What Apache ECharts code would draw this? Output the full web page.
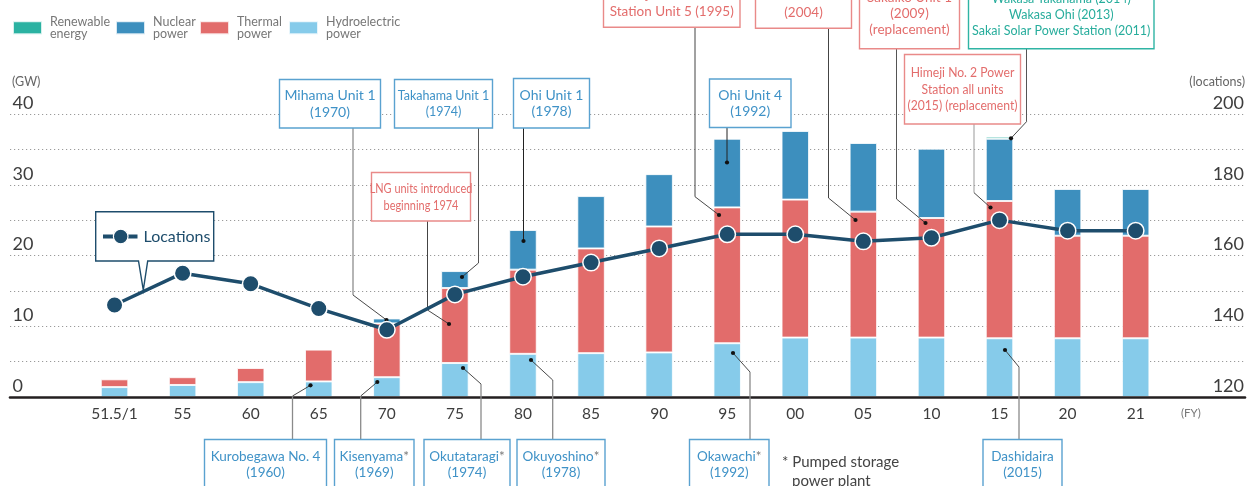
<!DOCTYPE html>
<html><head><meta charset="utf-8">
<script src="https://cdn.jsdelivr.net/npm/echarts@6/dist/echarts.min.js"></script>
<style>html,body{margin:0;padding:0;background:#fff}#c{width:1256px;height:486px}</style>
</head><body><div id="c"></div>
<script>
// ---- data ----
const categories = ['51.5/1','55','60','65','70','75','80','85','90','95','00','05','10','15','20','21'];
const hydroGW     = [1.4,1.7,2.1,2.2,2.8,4.8,6.1,6.2,6.3,7.6,8.4,8.4,8.4,8.3,8.3,8.3];
const thermalGW   = [1.1,1.1,2.0,4.5,7.6,10.6,11.9,14.8,17.8,19.2,19.5,17.8,16.9,19.4,14.5,14.5];
const nuclearGW   = [0,0,0,0,0.7,2.4,5.6,7.4,7.4,9.7,9.7,9.7,9.8,8.8,6.6,6.6];
const renewableGW = [0,0,0,0,0,0,0,0,0,0,0,0,0,0.3,0,0];
const locations   = [146,155,152,145,139,149,154,158,162,166,166,164,165,170,167,167];
const gwTickLabels = [0,10,20,30,40];
const locationTickLabels = [120,140,160,180,200];

const FONT = 'Lato, "Open Sans", sans-serif';
const COL = {renew:'#2bb2a2', nuc:'#3d8fbe', therm:'#e26c6b', hydro:'#86cbea', line:'#1e4d6c'};
const nz = a => a.map(v => v ? v : null);

const chart = echarts.init(document.getElementById('c'), null, {renderer:'canvas'});

const barBase = {type:'bar', stack:'gw', xAxisIndex:0, yAxisIndex:0, barWidth:27.5,
  itemStyle:{borderColor:'rgba(255,255,255,0.8)', borderWidth:1}};

function legendItem(name, left){
  return {data:[name], left:left, top:15.5, padding:0, icon:'rect', itemWidth:29, itemHeight:13,
    selectedMode:false,
    formatter: n => n.replace(' ', '\n'),
    textStyle:{fontFamily:FONT, fontSize:12.5, lineHeight:11.7, color:'#777', padding:[0,0,0,3]}};
}

// ---- annotation helpers (layout only) ----
const K = {blue:{s:'#5aa2d0', t:'#3f92c7'}, red:{s:'#e98a89', t:'#e36d6c'}, green:{s:'#2fb4a4', t:'#27ad9c'}};
const g = [];
function callout(o){
  g.push({type:'polyline', z:30, shape:{points:o.v}, style:{stroke:o.vc||'#555', lineWidth:o.vw||1, fill:null}});
  if (o.d) g.push({type:'polyline', z:30, shape:{points:[o.v[o.v.length-1], o.d]}, style:{stroke:'#333', lineWidth:0.9, fill:null}});
  const end = o.d || o.v[o.v.length-1];
  g.push({type:'circle', z:31, shape:{cx:end[0], cy:end[1], r:2.1}, style:{fill:'#111'}});
  const [x,y,w,h] = o.box;
  g.push({type:'rect', z:32, shape:{x:x, y:y, width:w, height:h}, style:{fill:'#fff', stroke:K[o.k].s, lineWidth:1.4}});
  const rich = {a:{fill:K[o.k].t, font:o.font, lineHeight:o.lh}, s:{fill:'#777', font:o.font, lineHeight:o.lh}};
  g.push({type:'text', z:33, x:x+w/2, y:y+h/2, scaleX:o.sx||1,
    style:{text:o.text, rich:rich, align:'center', verticalAlign:'middle', fill:K[o.k].t, font:o.font, lineHeight:o.lh}});
}
const f14 = '14px ' + FONT;
callout({k:'blue', box:[279.5,79.5,101,48.5], text:'{a|Mihama Unit 1}\n{a|(1970)}', font:f14, lh:16.5, v:[[353,128],[353,295]], vc:'#a3a3a3', vw:1.6, d:[386.5,320]});
callout({k:'blue', box:[394.5,79.5,98,48.5], text:'{a|Takahama Unit 1}\n{a|(1974)}', font:'12.5px '+FONT, lh:16, v:[[478.5,128],[478.5,263]], vc:'#555', d:[462,277]});
callout({k:'blue', box:[513.5,78.5,76,49.5], text:'{a|Ohi Unit 1}\n{a|(1978)}', font:f14, lh:16.5, v:[[523.5,128],[523.5,241]], vc:'#222'});
callout({k:'blue', box:[709.5,79,81.5,48.5], text:'{a|Ohi Unit 4}\n{a|(1992)}', font:f14, lh:16.5, v:[[727,127.5],[727,162.5]], vc:'#222'});
callout({k:'red', box:[371.5,172.5,99,48.5], text:'{a|LNG units introduced}\n{a|beginning 1974}', font:'14px '+FONT, lh:16.5, sx:0.78, v:[[427.5,221],[427.5,310]], vc:'#444', d:[449,324]});
callout({k:'red', box:[603.5,-21,136.5,48.3], text:'{a|Himeji No. 1 Power}\n{a|Station Unit 5 (1995)}', font:'13.5px '+FONT, lh:16.7, v:[[695,27.3],[695,196.7]], vc:'#444', d:[719,215]});
callout({k:'red', box:[755.5,-20,96,48.3], text:'{a|Maizuru Unit 1}\n{a|(2004)}', font:'13.5px '+FONT, lh:16.7, v:[[828.5,28.3],[828.5,198]], vc:'#444', d:[855.5,220]});
callout({k:'red', box:[859.5,-22,100,70.7], text:'{a|Sakaiko Unit 1}\n{a|(2009)}\n{a|(replacement)}', font:'13.5px '+FONT, lh:16.2, v:[[896.5,48.7],[896.5,199]], vc:'#555', d:[925.5,223]});
callout({k:'red', box:[904.5,54.5,116,69.5], text:'{a|Himeji No. 2 Power}\n{a|Station all units}\n{a|(2015) (replacement)}', font:'13.5px '+FONT, lh:16.3, sx:0.9, v:[[974,124],[974,192.7]], vc:'#999', d:[990.5,207.5]});
callout({k:'green', box:[968.5,-19.5,185.5,68.2], text:'{a|Wakasa Takahama (2014)}\n{a|Wakasa Ohi (2013)}\n{a|Sakai Solar Power Station (2011)}', font:'12.5px '+FONT, lh:16, v:[[1026.5,48.7],[1026.5,121.7]], vc:'#555', d:[1011,138.3]});
// bottom
callout({k:'blue', box:[204.5,439.5,122,50], text:'{a|Kurobegawa No. 4}\n{a|(1960)}', font:'13.5px '+FONT, lh:16, v:[[292.5,439.5],[292.5,396]], vc:'#8a8a8a', vw:1.3, d:[310.5,385.3]});
callout({k:'blue', box:[334.5,439.5,79.5,50], text:'{a|Kisenyama}{s|*}\n{a|(1969)}', font:'13.5px '+FONT, lh:16, v:[[360.7,439.5],[360.7,396]], vc:'#8a8a8a', vw:1.3, d:[377.3,382]});
callout({k:'blue', box:[424,439.5,86,50], text:'{a|Okutataragi}{s|*}\n{a|(1974)}', font:'13.5px '+FONT, lh:16, v:[[481,439.5],[481,384]], vc:'#8a8a8a', vw:1.3, d:[463,368]});
callout({k:'blue', box:[517,439.5,88,50], text:'{a|Okuyoshino}{s|*}\n{a|(1978)}', font:'13.5px '+FONT, lh:16, v:[[552.7,439.5],[552.7,380]], vc:'#8a8a8a', vw:1.3, d:[531,360]});
callout({k:'blue', box:[689.5,439.5,79.5,50], text:'{a|Okawachi}{s|*}\n{a|(1992)}', font:'13.5px '+FONT, lh:16, v:[[750,439.5],[750,372]], vc:'#8a8a8a', vw:1.3, d:[733,353]});
callout({k:'blue', box:[983,439.5,79,50], text:'{a|Dashidaira}\n{a|(2015)}', font:'13.5px '+FONT, lh:16, v:[[1019,439.5],[1019,367]], vc:'#8a8a8a', vw:1.3, d:[1005,350]});

// notes / units
g.push({type:'text', z:33, x:782, y:462, style:{text:'* Pumped storage', font:'15px '+FONT, fill:'#444', verticalAlign:'middle'}});
g.push({type:'text', z:33, x:792, y:481, style:{text:'power plant', font:'15px '+FONT, fill:'#444', verticalAlign:'middle'}});
g.push({type:'text', z:33, x:12, y:82, style:{text:'(GW)', font:'12.5px '+FONT, fill:'#666', verticalAlign:'middle'}});
g.push({type:'text', z:33, x:1245, y:82, style:{text:'(locations)', font:'12.5px '+FONT, fill:'#666', verticalAlign:'middle', align:'right'}});
g.push({type:'text', z:33, x:1181, y:413, style:{text:'(FY)', font:'11.5px '+FONT, fill:'#777', verticalAlign:'middle'}});

// Locations legend callout
g.push({type:'polygon', z:34, shape:{points:[[95.7,211.7],[213.7,211.7],[213.7,261],[147.7,261],[143.3,290],[138.5,261],[95.7,261]]},
  style:{fill:'#fff', stroke:COL.line, lineWidth:1.4}});
g.push({type:'line', z:35, shape:{x1:103, y1:236.5, x2:137.5, y2:236.5}, style:{stroke:COL.line, lineWidth:4}});
g.push({type:'circle', z:36, shape:{cx:120.7, cy:236.5, r:7.3}, style:{fill:COL.line, stroke:'#fff', lineWidth:1.2}});
g.push({type:'text', z:36, x:143.5, y:236.5, style:{text:'Locations', font:'16px '+FONT, fill:COL.line, verticalAlign:'middle'}});

const option = {
  animation:false,
  backgroundColor:'#fff',
  legend:[
    legendItem('Renewable energy', 12),
    legendItem('Nuclear power', 115),
    legendItem('Thermal power', 199),
    legendItem('Hydroelectric power', 288)
  ],
  grid:[
    {left:80.5, right:86.3, top:114, bottom:89, outerBoundsMode:'none'},
    {left:10, right:11, top:114, bottom:89, outerBoundsMode:'none'}
  ],
  xAxis:[
    {type:'category', gridIndex:0, data:categories, axisLine:{show:false}, axisTick:{show:false},
     axisLabel:{interval:0, margin:8.5, fontFamily:FONT, fontSize:15.5, color:'#3d3d3d'}, splitLine:{show:false}},
    {type:'value', gridIndex:1, min:0, max:1, z:10, axisLine:{show:true, onZero:false, lineStyle:{color:'#231f20', width:2.6}},
     axisTick:{show:false}, axisLabel:{show:false}, splitLine:{show:false}}
  ],
  yAxis:[
    {type:'value', gridIndex:0, min:0, max:40, show:false},
    {type:'value', gridIndex:0, min:120, max:200, show:false},
    {type:'value', gridIndex:1, min:0, max:40, interval:5, position:'left',
     axisLine:{show:false}, axisTick:{show:false},
     splitLine:{show:true, lineStyle:{color:'#9a9a9a', width:1, type:[1.2,2.8]}},
     axisLabel:{inside:true, margin:2.5, verticalAlign:'bottom', padding:[0,0,2,0], fontFamily:FONT, fontSize:18, color:'#3d3d3d',
       formatter: v => gwTickLabels.includes(v) ? String(v) : ''}},
    {type:'value', gridIndex:1, min:120, max:200, interval:10, position:'right',
     axisLine:{show:false}, axisTick:{show:false}, splitLine:{show:false},
     axisLabel:{inside:true, margin:1, verticalAlign:'bottom', padding:[0,0,2,0], fontFamily:FONT, fontSize:18, color:'#3d3d3d',
       formatter: v => locationTickLabels.includes(v) ? String(v) : ''}}
  ],
  series:[
    Object.assign({}, barBase, {name:'Hydroelectric power', data:nz(hydroGW), itemStyle:Object.assign({}, barBase.itemStyle, {color:COL.hydro})}),
    Object.assign({}, barBase, {name:'Thermal power', data:nz(thermalGW), itemStyle:Object.assign({}, barBase.itemStyle, {color:COL.therm})}),
    Object.assign({}, barBase, {name:'Nuclear power', data:nz(nuclearGW), itemStyle:Object.assign({}, barBase.itemStyle, {color:COL.nuc})}),
    Object.assign({}, barBase, {name:'Renewable energy', data:nz(renewableGW), itemStyle:Object.assign({}, barBase.itemStyle, {color:COL.renew})}),
    {name:'Locations', type:'line', xAxisIndex:0, yAxisIndex:1, data:locations, z:40,
     symbol:'circle', symbolSize:16.5, showSymbol:true,
     lineStyle:{color:COL.line, width:3.5}, itemStyle:{color:COL.line, borderColor:'#fff', borderWidth:1.5}}
  ],
  graphic:{elements:g}
};
chart.setOption(option);
</script>
</body></html>
